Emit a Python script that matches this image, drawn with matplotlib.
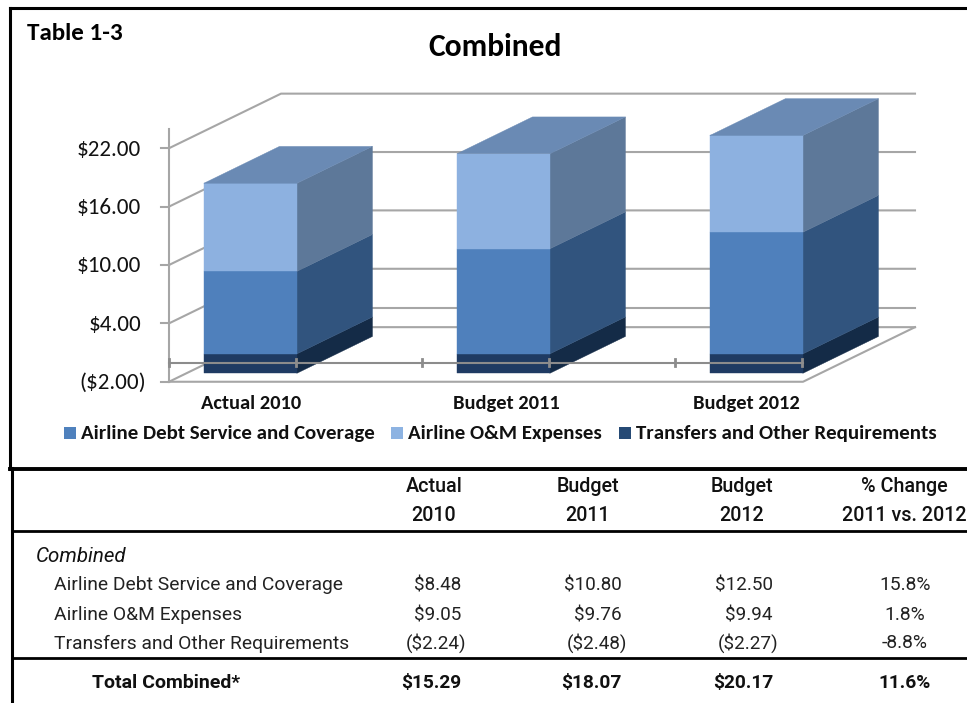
#!/usr/bin/env python3
"""Table 1-3: combined airline requirements, oblique 3D stacked bars plus table."""

import numpy as np
import matplotlib
matplotlib.use('Agg')
import matplotlib.pyplot as plt
from matplotlib.patches import Polygon, Rectangle

W, H = 967, 703

# Data
categories = ['Actual 2010', 'Budget 2011', 'Budget 2012']
debt_service = [8.48, 10.80, 12.50]
om_expenses = [9.05, 9.76, 9.94]
transfers = [-2.24, -2.48, -2.27]
totals = [15.29, 18.07, 20.17]
pct_change = [15.8, 1.8, -8.8, 11.6]
y_ticks = [22, 16, 10, 4, -2]
y_axis_max = 24
y_axis_min = -2

series_names = ['Airline Debt Service and Coverage', 'Airline O&M Expenses',
                'Transfers and Other Requirements']
col_heads = [('Actual', '2010'), ('Budget', '2011'), ('Budget', '2012'),
             ('% Change', '2011 vs. 2012')]

# Colours: front, side
LIGHT = '#8DB1E0'
LIGHT_SIDE = '#5D7899'
TOP = '#6A8AB4'
MID = '#4F80BC'
MID_SIDE = '#31547E'
DARK = '#1F3B63'
DARK_SIDE = '#142B47'
GRID = '#A6A6A6'
SWATCH = ['#4F81BD', '#8DB3E2', '#264A75']

CHART_FONT = ['Carlito', 'Lato', 'DejaVu Sans']
TABLE_FONT = ['Roboto', 'Liberation Sans', 'DejaVu Sans']

# Scale of the chart: one category = 253 px, one dollar = 9.73 px
PX_X = 253.0
PX_Y = 9.73
X0 = 233.0
Y0 = 362.3
# Oblique depth of the whole floor, in data units
DEPTH_X = 112.0 / PX_X
DEPTH_Y = 54.6 / PX_Y
BAR_W = 93.0 / PX_X
BAR_D0 = 0.155
BAR_D1 = 0.83
WALL_L = -64.0 / PX_X
WALL_R = 2 + 64.0 / PX_X


def proj(x, v, d):
    """Oblique projection of (category, value, depth) on the flat axes"""
    return x + d * DEPTH_X, v + d * DEPTH_Y


def fx(px):
    return px / W


def fy(py):
    return 1 - py / H


def draw_block(ax, x, v0, v1, front, side, top=None):
    xl, xr = x - BAR_W / 2, x + BAR_W / 2
    a = proj(xl, v0, BAR_D0)
    b = proj(xr, v0, BAR_D0)
    c = proj(xr, v1, BAR_D0)
    d = proj(xl, v1, BAR_D0)
    e = proj(xr, v0, BAR_D1)
    f = proj(xr, v1, BAR_D1)
    g = proj(xl, v1, BAR_D1)
    ax.add_patch(Polygon([b, e, f, c], fc=side, ec=side, lw=0.3, zorder=3))
    ax.add_patch(Polygon([a, b, c, d], fc=front, ec=front, lw=0.3, zorder=3))
    if top is not None:
        ax.add_patch(Polygon([d, c, f, g], fc=top, ec=top, lw=0.3, zorder=3))


fig = plt.figure(figsize=(W / 100, H / 100), dpi=100, facecolor='white')
ax = fig.add_axes([0, 0, 1, 1])
ax.set_xlim((0 - X0) / PX_X, (W - X0) / PX_X)
ax.set_ylim((Y0 - H) / PX_Y, Y0 / PX_Y)
ax.axis('off')

# Walls and floor
for v in y_ticks:
    p0 = proj(WALL_L, v, 0)
    p1 = proj(WALL_L, v, 1)
    p2 = proj(WALL_R, v, 1)
    ax.plot([p0[0], p1[0], p2[0]], [p0[1], p1[1], p2[1]], color=GRID, lw=1.5, zorder=1)
    tick = 8.0 / PX_X
    ax.plot([WALL_L - tick, WALL_L], [v, v], color=GRID, lw=1.5, zorder=1)
    label = f'${v:.2f}' if v >= 0 else f'(${abs(v):.2f})'
    ax.text(WALL_L - (28.0 if v >= 0 else 23.0) / PX_X, v - 0.15, label, ha='right', va='center',
            fontsize=16.6, family=CHART_FONT, color='#111111')

# back wall line at zero
p1 = proj(WALL_L, 0, 1)
p2 = proj(WALL_R, 0, 1)
ax.plot([p1[0], p2[0]], [p1[1], p2[1]], color=GRID, lw=1.5, zorder=1)

# front and right floor edges
fl = proj(WALL_R, y_axis_min, 0)
bl = proj(WALL_R, y_axis_min, 1)
ax.plot([WALL_L, fl[0], bl[0]], [y_axis_min, fl[1], bl[1]], color=GRID, lw=1.5, zorder=1)
ax.plot([WALL_L, WALL_L], [y_axis_min, y_axis_max], color=GRID, lw=1.5, zorder=1)

# Bars, stacked up from zero and cut off at the axis minimum
for i in range(len(categories)):
    low = max(transfers[i], y_axis_min)
    draw_block(ax, i, low, 0, DARK, DARK_SIDE)
    draw_block(ax, i, 0, debt_service[i], MID, MID_SIDE)
    draw_block(ax, i, debt_service[i], debt_service[i] + om_expenses[i],
               LIGHT, LIGHT_SIDE, TOP)
    ax.text(i + [0.07, 0.08, 0.03][i], y_axis_min - 2.2, categories[i], ha='center', va='center',
            fontsize=14.8, fontweight='bold', family=CHART_FONT, color='#111111')

# Zero line with its tick marks runs over the bars
ax.plot([WALL_L, WALL_R], [-0.05, -0.05], color='#8C8C8C', lw=1.5, zorder=4)
for k in range(6):
    xt = WALL_L + k * 0.5
    ax.plot([xt, xt], [-0.4, 0.3], color='#8C8C8C', lw=2, zorder=4)

# Titles
fig.text(fx(27), fy(33.5), 'Table 1-3', fontsize=18, fontweight='bold', family=CHART_FONT,
         ha='left', va='center', color='black')
fig.text(fx(495), fy(46.5), 'Combined', fontsize=22.7, fontweight='bold', family=CHART_FONT,
         ha='center', va='center', color='black')

# Legend
swatch_x = [64, 391, 619]
for sx, name, col in zip(swatch_x, series_names, SWATCH):
    fig.add_artist(Rectangle((fx(sx), fy(439)), 12 / W, 12 / H, transform=fig.transFigure,
                             fc=col, ec='none'))
    fig.text(fx(sx + 17), fy(433.5), name, fontsize=15, fontweight='bold', family=CHART_FONT,
             ha='left', va='center', color='#111111')

# Frame and table rules
frame = [([10, 967], [8, 8], 2.2), ([10, 10], [8, 469], 2.2), ([10, 967], [468.5, 468.5], 2.8),
         ([12, 12], [468, 703], 2.2), ([12, 967], [530.5, 530.5], 2.0),
         ([12, 967], [658, 658], 2.0)]
for xs, ys, lw in frame:
    fig.add_artist(plt.Line2D([fx(x) for x in xs], [fy(y) for y in ys], color='black', lw=lw,
                              transform=fig.transFigure))

# Table text
col_x = [434, 588, 742, 904]
for cx, (a, b) in zip(col_x, col_heads):
    for txt, py in ((a, 487), (b, 515.5)):
        fig.text(fx(cx), fy(py), txt, fontsize=14.2, fontweight=500, family=TABLE_FONT,
                 ha='center', va='center', color='#111111')

fig.text(fx(36), fy(556.5), 'Combined', fontsize=14.8, style='italic', family=TABLE_FONT,
         ha='left', va='center', color='#111111')


def money(v):
    return f'${v:.2f}' if v >= 0 else f'(${abs(v):.2f})'


row_y = [585.5, 615, 643.5]
rows = [debt_service, om_expenses, transfers]
val_right = [461, 622, 773]
for r, (py, name, vals) in enumerate(zip(row_y, series_names, rows)):
    fig.text(fx(54), fy(py), name, fontsize=13.85, family=TABLE_FONT, ha='left', va='center',
             color='#222222')
    for right, v in zip(val_right, vals):
        fig.text(fx(right + (0 if v >= 0 else 5.5)), fy(py), money(v), fontsize=13.6,
                 family=TABLE_FONT, ha='right', va='center', color='#222222')
    fig.text(fx(905), fy(py), f'{pct_change[r]:.1f}%', fontsize=13.85, family=TABLE_FONT,
             ha='center', va='center', color='#222222')

fig.text(fx(92), fy(683.5), 'Total Combined*', fontsize=14, fontweight='bold', family=TABLE_FONT,
         ha='left', va='center', color='#111111')
for right, v in zip(val_right, totals):
    fig.text(fx(right), fy(683.5), money(v), fontsize=13.8, fontweight='bold', family=TABLE_FONT,
             ha='right', va='center', color='#111111')
fig.text(fx(905), fy(683.5), f'{pct_change[3]:.1f}%', fontsize=13.8, fontweight='bold',
         family=TABLE_FONT, ha='center', va='center', color='#111111')

plt.savefig('out.png', dpi=100, facecolor='white')
plt.close()
